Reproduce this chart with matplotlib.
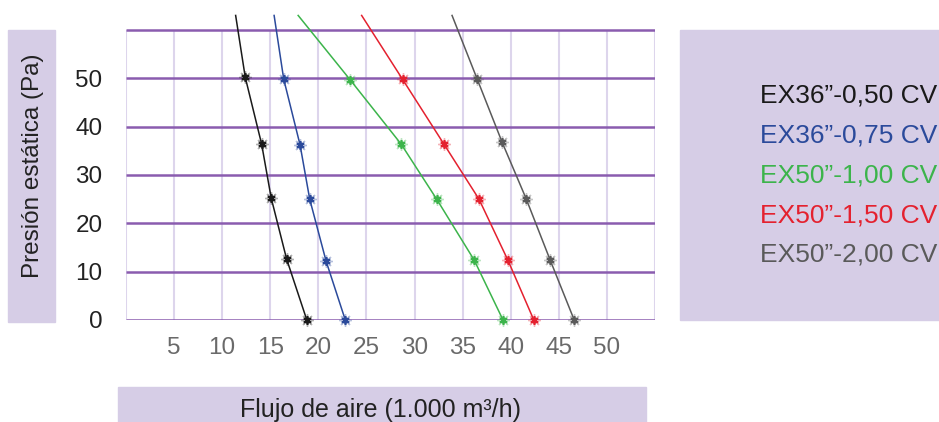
import matplotlib.pyplot as plt
from matplotlib.patches import Rectangle

plt.rcParams['font.family'] = ['Liberation Sans', 'DejaVu Sans']

# data (x = 1.000 m3/h, y = Pa); last point is where the line leaves the top
labels = ['EX36\u201d-0,50 CV', 'EX36\u201d-0,75 CV', 'EX50\u201d-1,00 CV',
          'EX50\u201d-1,50 CV', 'EX50\u201d-2,00 CV']
colors = ['#1a1a1a', '#2b4a9b', '#3cb44b', '#e4212f', '#5a5a5a']

flow_050 = [18.8, 16.7, 15.1, 14.1, 12.4, 11.4]
flow_075 = [22.8, 20.8, 19.1, 18.1, 16.4, 15.4]
flow_100 = [39.2, 36.2, 32.3, 28.6, 23.3, 17.9]
flow_150 = [42.4, 39.7, 36.7, 33.05, 28.75, 24.5]
flow_200 = [46.6, 44.1, 41.6, 39.1, 36.5, 33.9]

pres_050 = [0, 12.6, 25.2, 36.4, 50.2, 63]
pres_075 = [0, 12.2, 25, 36.2, 49.8, 63]
pres_100 = [0, 12.4, 25, 36.4, 49.7, 63]
pres_150 = [0, 12.4, 25, 36.4, 49.8, 63]
pres_200 = [0, 12.4, 25.1, 36.8, 49.9, 63]

flows = [flow_050, flow_075, flow_100, flow_150, flow_200]
presses = [pres_050, pres_075, pres_100, pres_150, pres_200]

x_ticks = [5, 10, 15, 20, 25, 30, 35, 40, 45, 50]
y_ticks = [0, 10, 20, 30, 40, 50]

W, H = 939, 422
fig = plt.figure(figsize=(W / 100, H / 100), dpi=100)
lav = '#d6cde6'

# lavender boxes behind labels / legend
fig.patches.append(Rectangle((8 / W, 1 - 322 / H), 47 / W, 292 / H,
                             transform=fig.transFigure, color=lav, zorder=0))
fig.patches.append(Rectangle((118 / W, 0), 528 / W, 35 / H,
                             transform=fig.transFigure, color=lav, zorder=0))
fig.patches.append(Rectangle((680 / W, 1 - 320 / H), 259 / W, 290 / H,
                             transform=fig.transFigure, color=lav, zorder=0))

ax = fig.add_axes([126 / W, 1 - 320 / H, 529 / W, 306 / H])
ax.set_xlim(0, 55)
ax.set_ylim(0, 63.3)

ax.vlines(range(0, 60, 5), 0, 60, color='#ddd5ec', linewidth=1.5, zorder=1)
ax.hlines(range(0, 70, 10), 0, 55, color='#8a5caf', linewidth=1.8, zorder=2)

for fl, pr, c in zip(flows, presses, colors):
    ax.plot(fl, pr, color=c, linewidth=1.1, zorder=3)
    ax.plot(fl[:-1], pr[:-1], linestyle='none', marker=(8, 2, 0), markersize=9,
            markeredgewidth=1.0, color=c, alpha=0.35, zorder=4, clip_on=False)
    ax.plot(fl[:-1], pr[:-1], linestyle='none', marker=(6, 2, 0), markersize=6,
            markeredgewidth=1.3, color=c, zorder=5, clip_on=False)

for s in ax.spines.values():
    s.set_visible(False)
ax.set_xticks(x_ticks)
ax.set_yticks(y_ticks)
ax.tick_params(axis='x', length=0, pad=12, labelsize=17.5, labelcolor='#6a6a6a')
ax.tick_params(axis='y', length=0, pad=17, labelsize=17.5, labelcolor='#222222')

fig.text(33 / W, 1 - 166 / H, 'Presi\u00f3n est\u00e1tica (Pa)', rotation=90,
         ha='center', va='center', fontsize=17.5, color='#222222')
fig.text(380 / W, 1 - 410 / H, 'Flujo de aire (1.000 m\u00b3/h)',
         ha='center', va='center', fontsize=18, color='#222222')

for i, (lab, c) in enumerate(zip(labels, colors)):
    fig.text(937 / W, 1 - (96 + i * 39.7) / H, lab, ha='right', va='center',
             fontsize=19, color=c)

fig.savefig('out.png', dpi=100)
